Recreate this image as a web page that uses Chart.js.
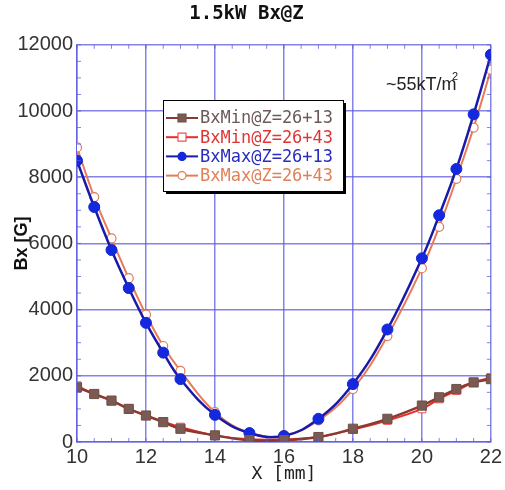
<!DOCTYPE html>
<html>
<head>
<meta charset="utf-8">
<script src="https://cdn.jsdelivr.net/npm/chart.js@4.4.0/dist/chart.umd.min.js"></script>
<style>
  html, body { margin: 0; padding: 0; background: #fff; }
  #wrap { width: 505px; height: 490px; }
</style>
</head>
<body>
<div id="wrap"><canvas id="bxChart"></canvas></div>
<script>
// X positions [mm]
const xValues = [10, 10.5, 11, 11.5, 12, 12.5, 13, 14, 15, 16, 17, 18, 19, 20, 20.5, 21, 21.5, 22];
// Bx [G]
const bxMin13 = [1650, 1450, 1250, 1000, 800, 600, 400, 200, 50, 50, 150, 400, 700, 1100, 1350, 1600, 1800, 1900];
const bxMin43 = [1700, 1450, 1250, 1000, 800, 620, 450, 200, 80, 80, 150, 380, 650, 1000, 1300, 1550, 1800, 1950];
const bxMax13 = [8500, 7100, 5800, 4650, 3600, 2700, 1900, 820, 270, 180, 700, 1750, 3400, 5550, 6850, 8250, 9900, 11700];
const bxMax43 = [8900, 7400, 6150, 4950, 3850, 2900, 2150, 900, 280, 200, 650, 1600, 3200, 5250, 6500, 7950, 9500, 11250];
const seriesNames = ['BxMin@Z=26+13', 'BxMin@Z=26+43', 'BxMax@Z=26+13', 'BxMax@Z=26+43'];

const xTicks = [10, 12, 14, 16, 18, 20, 22];
const yTicks = [0, 2000, 4000, 6000, 8000, 10000, 12000];

const gridBlue = 'rgba(90, 90, 225, 0.75)';
const sansFont = "'Liberation Sans', Arial, sans-serif";
const monoFont = "'DejaVu Sans Mono', 'Liberation Mono', monospace";

function pts(ys) {
    return xValues.map((x, i) => ({ x: x, y: ys[i] }));
}

// little inward ticks on the frame, every 0.5 mm and 500 G
const minorTicks = {
    id: 'minorTicks',
    afterDatasetsDraw(chart) {
        const { ctx, chartArea: a, scales } = chart;
        ctx.save();
        ctx.strokeStyle = gridBlue;
        ctx.lineWidth = 1;
        ctx.beginPath();
        for (let v = 10; v <= 22; v += 0.5) {
            const px = scales.x.getPixelForValue(v);
            ctx.moveTo(px, a.bottom); ctx.lineTo(px, a.bottom - 4);
            ctx.moveTo(px, a.top); ctx.lineTo(px, a.top + 4);
        }
        for (let v = 0; v <= 12000; v += 500) {
            const py = scales.y.getPixelForValue(v);
            ctx.moveTo(a.left, py); ctx.lineTo(a.left + 4, py);
            ctx.moveTo(a.right, py); ctx.lineTo(a.right - 4, py);
        }
        ctx.stroke();
        ctx.restore();
    }
};

// boxed legend inside the plot + the gradient note
const boxLegend = {
    id: 'boxLegend',
    afterDraw(chart) {
        const ctx = chart.ctx;
        const left = 163, top = 100, w = 180, h = 91;
        ctx.save();
        ctx.fillStyle = '#000';
        ctx.fillRect(left + 3, top + 3, w, h);
        ctx.fillStyle = '#fff';
        ctx.fillRect(left, top, w, h);
        ctx.strokeStyle = '#000';
        ctx.lineWidth = 1;
        ctx.strokeRect(left + 0.5, top + 0.5, w, h);

        ctx.font = '17px ' + monoFont;
        ctx.textBaseline = 'middle';
        chart.data.datasets.forEach((ds, i) => {
            const y = top + 18 + i * 19.2;
            ctx.strokeStyle = ds.borderColor;
            ctx.lineWidth = 2;
            ctx.beginPath();
            ctx.moveTo(left + 3, y); ctx.lineTo(left + 35, y);
            ctx.stroke();
            const cx = left + 19;
            ctx.beginPath();
            if (ds.pointStyle === 'rect') {
                ctx.rect(cx - 4, y - 4, 8, 8);
            } else {
                ctx.arc(cx, y, 4, 0, Math.PI * 2);
            }
            ctx.fillStyle = ds.pointBackgroundColor;
            ctx.fill();
            ctx.strokeStyle = ds.pointBorderColor;
            ctx.lineWidth = 1.2;
            ctx.stroke();
            ctx.fillStyle = ds.legendColor;
            ctx.fillText(ds.label, left + 37, y + 1);
        });

        // ~55kT/m^2
        ctx.fillStyle = '#222';
        ctx.font = '18px ' + sansFont;
        ctx.textBaseline = 'alphabetic';
        ctx.fillText('~55kT/m', 386, 90);
        ctx.font = '11px ' + sansFont;
        ctx.fillText('2', 452, 80);
        ctx.restore();
    }
};

new Chart(document.getElementById('bxChart'), {
    type: 'line',
    data: {
        datasets: [{
            label: seriesNames[0],
            data: pts(bxMin13),
            borderColor: '#8a3a30',
            borderWidth: 2.5,
            pointStyle: 'rect',
            pointRadius: 6.5,
            pointBackgroundColor: '#7b5a52',
            pointBorderColor: '#6e5048',
            pointBorderWidth: 1,
            legendColor: '#6b5a55',
            tension: 0.4
        }, {
            label: seriesNames[1],
            data: pts(bxMin43),
            borderColor: '#ee2a2a',
            borderWidth: 2,
            pointStyle: 'rect',
            pointRadius: 5.5,
            pointBackgroundColor: '#fff',
            pointBorderColor: '#ee5050',
            pointBorderWidth: 1,
            legendColor: '#e03535',
            tension: 0.4
        }, {
            label: seriesNames[2],
            data: pts(bxMax13),
            borderColor: '#1a1aa8',
            borderWidth: 2.5,
            pointStyle: 'circle',
            pointRadius: 5.5,
            pointBackgroundColor: '#1428e0',
            pointBorderColor: '#1428d0',
            pointBorderWidth: 1,
            legendColor: '#2a2abf',
            tension: 0.4
        }, {
            label: seriesNames[3],
            data: pts(bxMax43),
            borderColor: '#e87a58',
            borderWidth: 2,
            pointStyle: 'circle',
            pointRadius: 4.5,
            pointBackgroundColor: '#fff',
            pointBorderColor: '#e07a5a',
            pointBorderWidth: 1.2,
            legendColor: '#e0805a',
            tension: 0.4
        }]
    },
    options: {
        responsive: true,
        maintainAspectRatio: false,
        animation: false,
        layout: { padding: { left: 0, right: 12, top: 0, bottom: 0 } },
        plugins: {
            legend: { display: false },
            tooltip: { enabled: false },
            title: {
                display: true,
                text: '1.5kW Bx@Z',
                color: '#111',
                font: { family: monoFont, size: 19, weight: 'bold', lineHeight: 1.2 },
                padding: { top: 3, bottom: 19 }
            }
        },
        scales: {
            x: {
                type: 'linear',
                min: 10,
                max: 22,
                afterBuildTicks: (s) => { s.ticks = xTicks.map(v => ({ value: v })); },
                afterFit: (s) => { s.height = 48; },
                grid: { color: gridBlue, lineWidth: 1.5, drawTicks: false },
                border: { color: gridBlue, width: 1.5 },
                ticks: {
                    color: '#333',
                    padding: 3,
                    maxRotation: 0,
                    callback: (v) => String(v),
                    font: { family: sansFont, size: 20 }
                },
                title: {
                    display: true,
                    text: 'X [mm]',
                    color: '#222',
                    font: { family: monoFont, size: 18, lineHeight: 1.2 },
                    padding: { top: 0, bottom: 5 }
                }
            },
            y: {
                min: 0,
                max: 12000,
                afterBuildTicks: (s) => { s.ticks = yTicks.map(v => ({ value: v })); },
                afterFit: (s) => { s.width = 77; },
                grid: { color: gridBlue, lineWidth: 1.5, drawTicks: false },
                border: { color: gridBlue, width: 1.5 },
                ticks: {
                    color: '#333',
                    padding: 4,
                    callback: (v) => String(v),
                    font: { family: sansFont, size: 20 }
                },
                title: {
                    display: true,
                    text: 'Bx [G]',
                    color: '#111',
                    font: { family: sansFont, size: 18, weight: 'bold', lineHeight: 1.2 },
                    padding: { top: 11, bottom: 0 }
                }
            }
        }
    },
    plugins: [minorTicks, boxLegend]
});
</script>
</body>
</html>
